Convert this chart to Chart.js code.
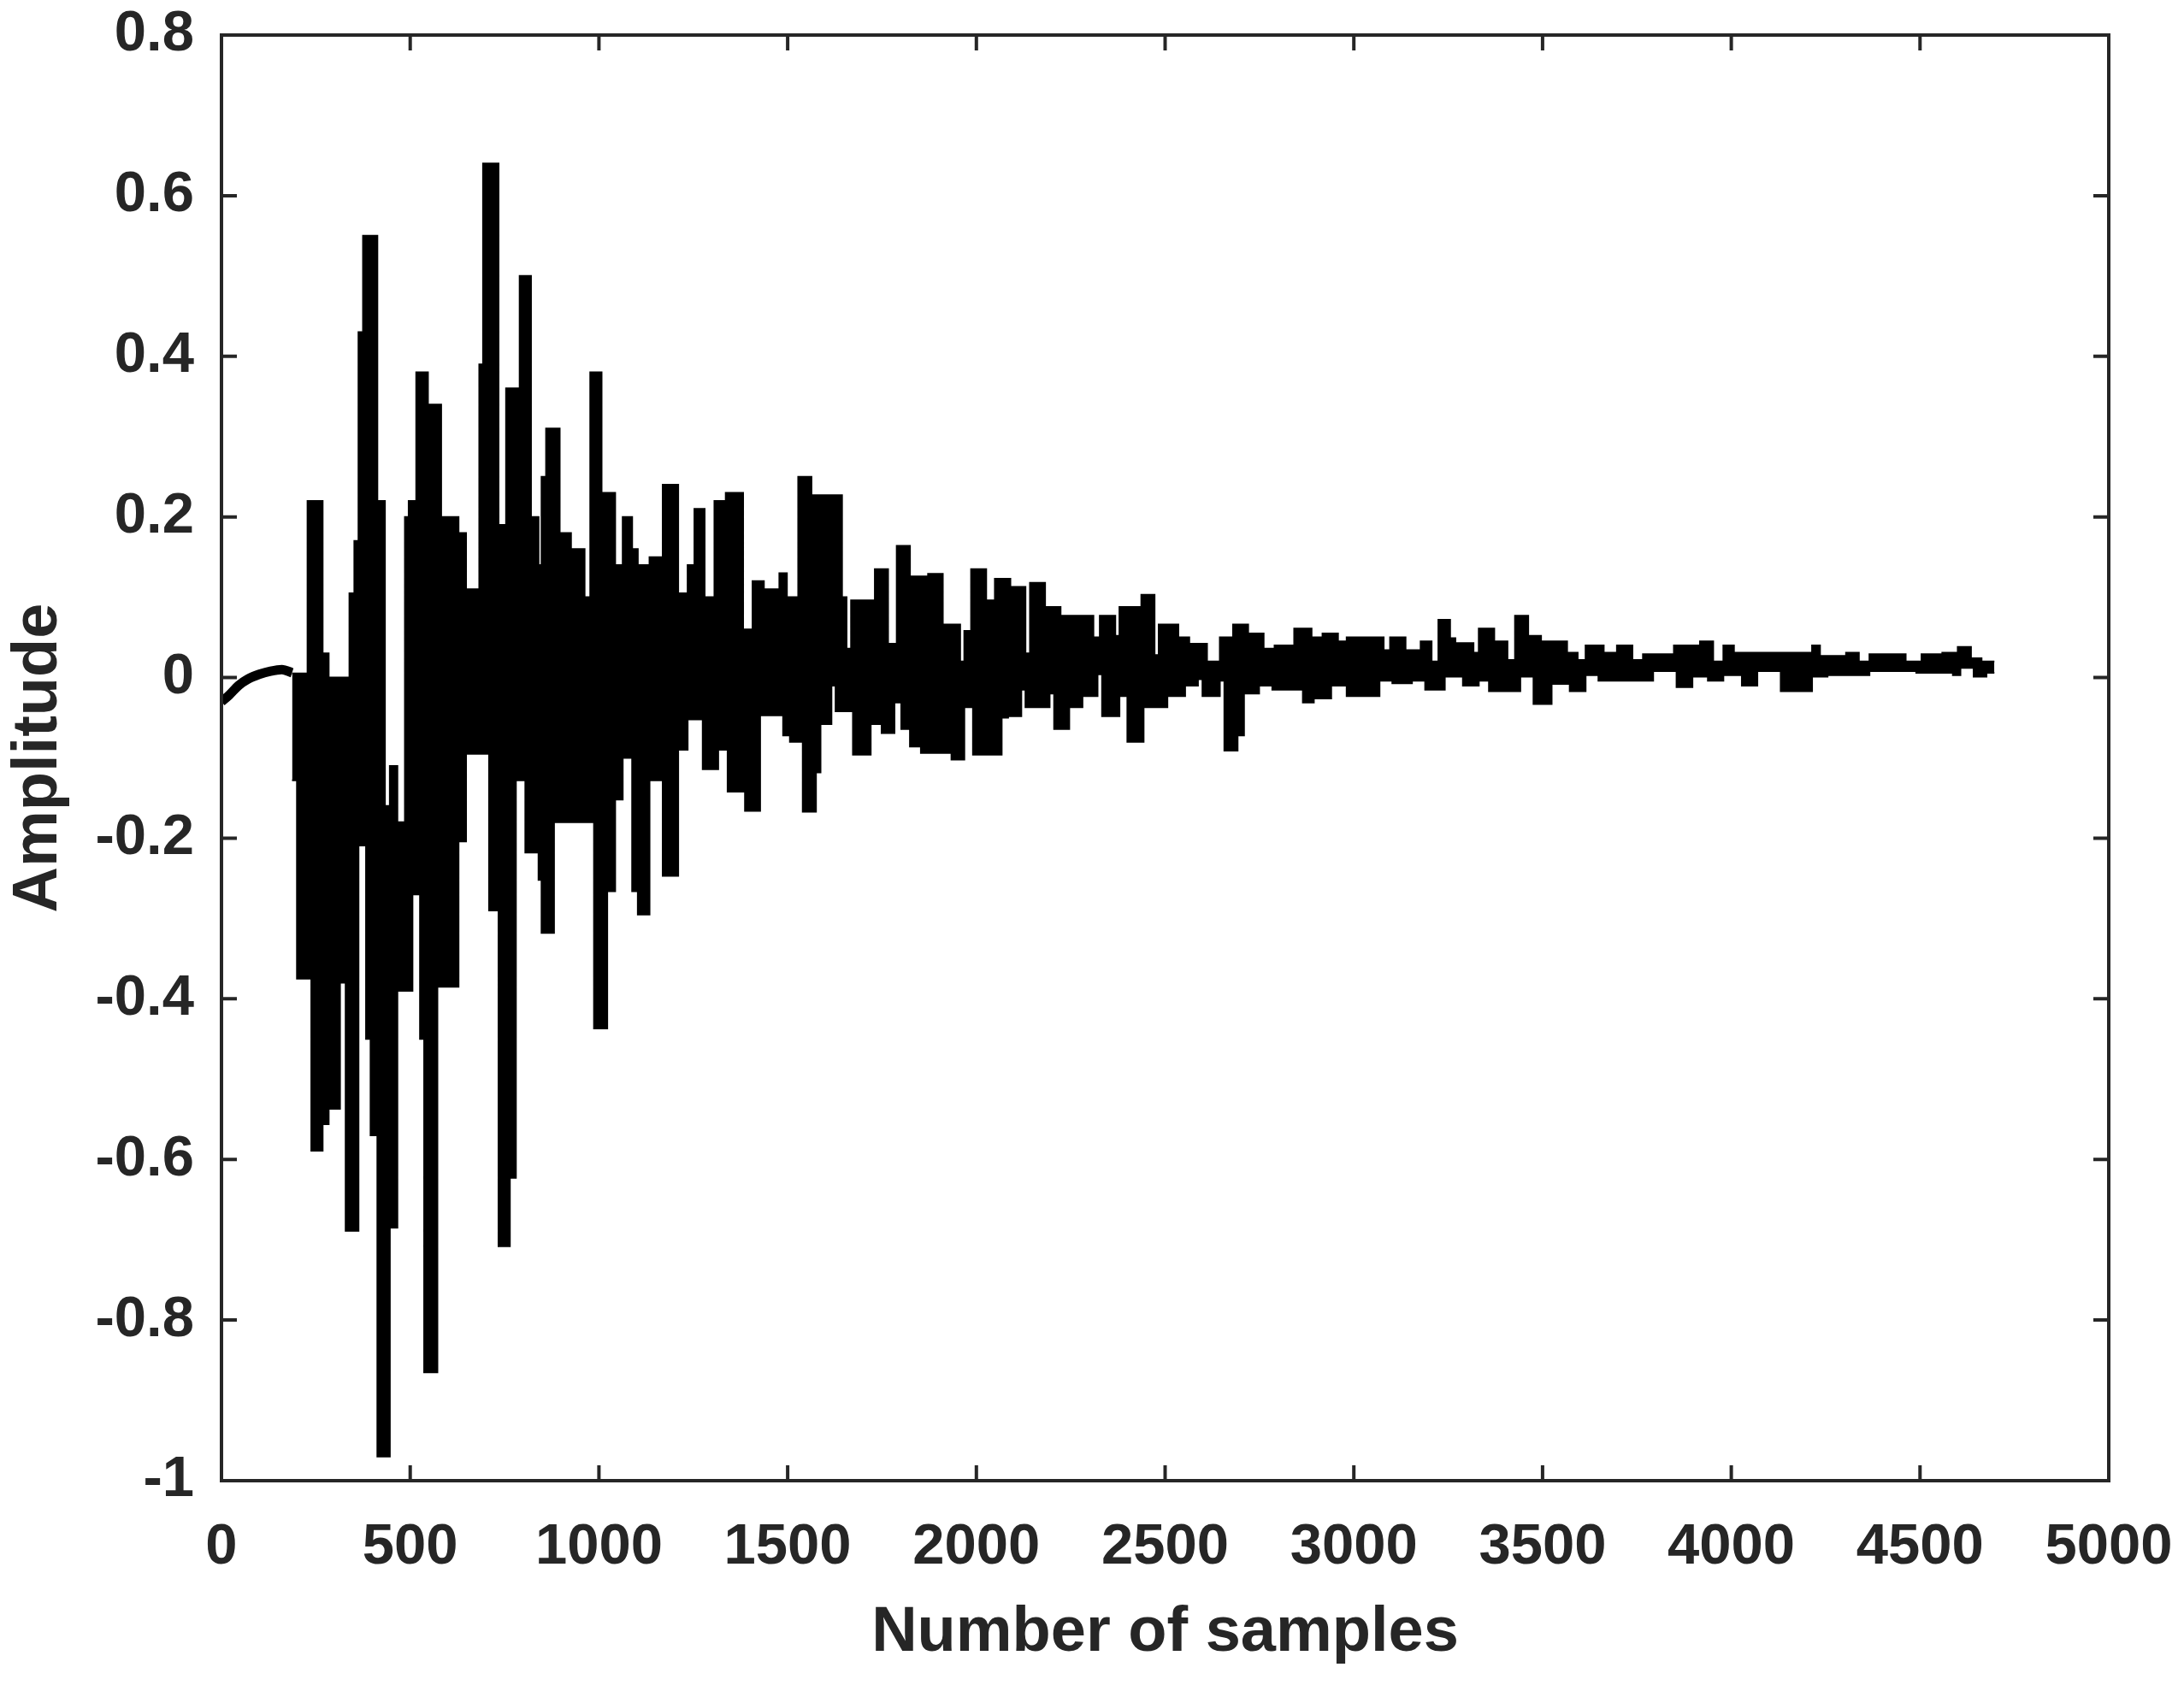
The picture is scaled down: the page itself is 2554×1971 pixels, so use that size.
<!DOCTYPE html>
<html>
<head>
<meta charset="utf-8">
<title>Amplitude vs number of samples</title>
<script src="https://cdn.jsdelivr.net/npm/chart.js@4/dist/chart.umd.min.js"></script>
<style>
  html, body { margin: 0; padding: 0; background: #fff; }
  canvas { display: block; }
</style>
</head>
<body>
<canvas id="signalChart" width="2554" height="1971"></canvas>
<script>
'use strict'

// axis ticks
const xTickValues = [0, 500, 1000, 1500, 2000, 2500, 3000, 3500, 4000, 4500, 5000];
const xTickLabels = ['0', '500', '1000', '1500', '2000', '2500', '3000', '3500', '4000', '4500', '5000'];
const yTickValues = [-1, -0.8, -0.6, -0.4, -0.2, 0, 0.2, 0.4, 0.6, 0.8];
const yTickLabels = ['-1', '-0.8', '-0.6', '-0.4', '-0.2', '0', '0.2', '0.4', '0.6', '0.8'];

// quiet start of the record, before the first arrival
const onsetSamples = [0, 20, 45, 70, 100, 130, 160, 187];
const onsetValues = [-0.03, -0.022, -0.01, -0.002, 0.004, 0.008, 0.01, 0.006];

// upper edge of the trace (sample where a level starts, amplitude)
const upperSamples = [
  187, 228, 268, 284, 339, 352, 363, 375, 413, 433,
  446, 466, 486, 496, 516, 547, 582, 628, 648, 683,
  693, 734, 754, 790, 820, 840, 848, 860, 896, 926,
  962, 977, 1007, 1043, 1063, 1088, 1103, 1134, 1169, 1210,
  1235, 1253, 1280, 1306, 1336, 1382, 1407, 1437, 1478, 1498,
  1528, 1563, 1644, 1656, 1668, 1731, 1766, 1789, 1824, 1872,
  1911, 1957, 1968, 1986, 2026, 2049, 2090, 2130, 2142, 2182,
  2223, 2310, 2327, 2368, 2379, 2437, 2472, 2483, 2535, 2564,
  2611, 2645, 2680, 2720, 2761, 2790, 2842, 2888, 2917, 2958,
  2981, 3079, 3096, 3137, 3177, 3206, 3224, 3255, 3269, 3317,
  3331, 3372, 3407, 3427, 3462, 3496, 3565, 3593, 3614, 3662,
  3697, 3738, 3766, 3848, 3917, 3952, 3979, 4007, 4214, 4235,
  4304, 4338, 4366, 4462, 4504, 4559, 4600, 4635, 4663, 4697
];
const upperValues = [
  0.005, 0.22, 0.03, 0.0, 0.105, 0.17, 0.43, 0.55, 0.22, -0.16,
  -0.11, -0.18, 0.2, 0.22, 0.38, 0.34, 0.2, 0.18, 0.11, 0.39,
  0.64, 0.19, 0.36, 0.5, 0.2, 0.14, 0.25, 0.31, 0.18, 0.16,
  0.1, 0.38, 0.23, 0.14, 0.2, 0.16, 0.14, 0.15, 0.24, 0.105,
  0.14, 0.21, 0.1, 0.22, 0.23, 0.06, 0.12, 0.11, 0.13, 0.1,
  0.25, 0.227, 0.1, 0.036, 0.096, 0.135, 0.042, 0.164, 0.126, 0.129,
  0.066, 0.02, 0.058, 0.135, 0.096, 0.123, 0.113, 0.03, 0.118, 0.088,
  0.077, 0.05, 0.077, 0.052, 0.088, 0.103, 0.028, 0.066, 0.05, 0.042,
  0.02, 0.05, 0.066, 0.055, 0.036, 0.04, 0.061, 0.05, 0.055, 0.045,
  0.05, 0.034, 0.05, 0.034, 0.045, 0.02, 0.072, 0.049, 0.043, 0.031,
  0.061, 0.045, 0.022, 0.077, 0.052, 0.045, 0.031, 0.022, 0.04, 0.031,
  0.04, 0.022, 0.029, 0.04, 0.045, 0.02, 0.04, 0.031, 0.04, 0.027,
  0.031, 0.02, 0.029, 0.02, 0.029, 0.031, 0.038, 0.024, 0.02, 0.02
];

// lower edge of the trace
const lowerSamples = [
  187, 200, 238, 268, 284, 314, 329, 363, 383, 395,
  413, 446, 466, 506, 526, 537, 572, 628, 648, 709,
  734, 764, 780, 805, 840, 848, 881, 987, 1022, 1043,
  1063, 1088, 1103, 1134, 1169, 1210, 1235, 1275, 1316, 1341,
  1387, 1427, 1488, 1506, 1540, 1575, 1587, 1616, 1627, 1673,
  1720, 1749, 1783, 1801, 1824, 1853, 1934, 1968, 1991, 2067,
  2084, 2119, 2130, 2194, 2206, 2246, 2281, 2321, 2333, 2379,
  2400, 2443, 2506, 2553, 2587, 2599, 2645, 2657, 2692, 2709,
  2749, 2784, 2865, 2894, 2940, 2981, 3068, 3102, 3154, 3189,
  3241, 3289, 3331, 3358, 3441, 3476, 3524, 3572, 3614, 3648,
  3793, 3855, 3897, 3938, 3979, 4028, 4069, 4131, 4214, 4255,
  4366, 4490, 4587, 4607, 4642, 4676, 4697
];
const lowerValues = [
  -0.128, -0.375, -0.589, -0.556, -0.537, -0.38, -0.689, -0.209, -0.45, -0.57,
  -0.97, -0.685, -0.39, -0.27, -0.45, -0.865, -0.385, -0.204, -0.095, -0.29,
  -0.708, -0.623, -0.128, -0.218, -0.252, -0.318, -0.18, -0.437, -0.266, -0.152,
  -0.1, -0.266, -0.295, -0.128, -0.247, -0.09, -0.052, -0.114, -0.09, -0.142,
  -0.166, -0.047, -0.072, -0.08, -0.167, -0.118, -0.058, -0.01, -0.042, -0.096,
  -0.058, -0.069, -0.031, -0.064, -0.086, -0.094, -0.102, -0.037, -0.096, -0.05,
  -0.048, -0.015, -0.037, -0.02, -0.064, -0.037, -0.023, 0.004, -0.048, -0.023,
  -0.08, -0.037, -0.023, -0.01, -0.002, -0.023, -0.004, -0.091, -0.072, -0.02,
  -0.01, -0.015, -0.031, -0.026, -0.01, -0.023, -0.004, -0.007, -0.004, -0.015,
  0.001, -0.01, -0.004, -0.017, 0.001, -0.033, -0.008, -0.017, 0.003, -0.004,
  0.008, -0.012, 0.001, -0.004, 0.003, -0.01, 0.008, -0.017, 0.001, 0.003,
  0.008, 0.006, 0.003, 0.012, 0.001, 0.006, 0.006
];

const axisColor = '#262626';
const traceColor = '#000000';

function toPoints(xs, ys) {
  let points = [];
  for (let i = 0; i < xs.length; i++) {
    points.push({x: xs[i], y: ys[i]});
  }
  return points;
}

// matlab style box with inward ticks on all four sides
const boxAxes = {
  id: 'boxAxes',
  afterDatasetsDraw(chart) {
    const {ctx, chartArea, scales} = chart;
    const tickLen = 18;
    ctx.save();
    ctx.strokeStyle = axisColor;
    ctx.lineWidth = 4;
    ctx.beginPath();
    scales.x.ticks.forEach(t => {
      let px = scales.x.getPixelForValue(t.value);
      ctx.moveTo(px, chartArea.bottom);
      ctx.lineTo(px, chartArea.bottom - tickLen);
      ctx.moveTo(px, chartArea.top);
      ctx.lineTo(px, chartArea.top + tickLen);
    });
    scales.y.ticks.forEach(t => {
      let py = scales.y.getPixelForValue(t.value);
      ctx.moveTo(chartArea.left, py);
      ctx.lineTo(chartArea.left + tickLen, py);
      ctx.moveTo(chartArea.right, py);
      ctx.lineTo(chartArea.right - tickLen, py);
    });
    ctx.stroke();
    ctx.strokeRect(chartArea.left, chartArea.top, chartArea.right - chartArea.left, chartArea.bottom - chartArea.top);
    ctx.restore();
  }
};

Chart.defaults.font.family = "'Liberation Sans', Arial, sans-serif";
Chart.defaults.color = axisColor;

const config = {
  type: 'line',
  data: {
    datasets: [
      {
        label: 'upper',
        data: toPoints(upperSamples, upperValues),
        stepped: true,
        fill: '+1',
        backgroundColor: traceColor,
        borderColor: traceColor,
        borderWidth: 2,
        pointRadius: 0
      },
      {
        label: 'lower',
        data: toPoints(lowerSamples, lowerValues),
        stepped: true,
        fill: false,
        borderColor: traceColor,
        borderWidth: 2,
        pointRadius: 0
      },
      {
        label: 'onset',
        data: toPoints(onsetSamples, onsetValues),
        fill: false,
        borderColor: traceColor,
        borderWidth: 11,
        cubicInterpolationMode: 'monotone',
        pointRadius: 0
      }
    ]
  },
  options: {
    responsive: false,
    animation: false,
    layout: {padding: {left: 0, top: 41, right: 88, bottom: 0}},
    plugins: {
      legend: {display: false},
      tooltip: {enabled: false}
    },
    scales: {
      x: {
        type: 'linear',
        min: 0,
        max: 5000,
        afterBuildTicks: scale => { scale.ticks = xTickValues.map(v => ({value: v})); },
        afterFit: scale => {
          scale.height = 239;
          scale.paddingLeft = 0;
          scale.paddingRight = 0;
        },
        grid: {display: false, drawTicks: false},
        border: {display: false},
        ticks: {
          font: {size: 67, weight: 'bold'},
          padding: 38,
          maxRotation: 0,
          autoSkip: false,
          callback: (value, index) => xTickLabels[index]
        },
        title: {
          display: true,
          text: 'Number of samples',
          font: {size: 74, weight: 'bold'},
          padding: {top: 0, bottom: 16}
        }
      },
      y: {
        type: 'linear',
        min: -1,
        max: 0.8,
        afterBuildTicks: scale => { scale.ticks = yTickValues.map(v => ({value: v})); },
        afterFit: scale => {
          scale.width = 259;
          scale.paddingTop = 0;
          scale.paddingBottom = 0;
        },
        grid: {display: false, drawTicks: false},
        border: {display: false},
        ticks: {
          font: {size: 67, weight: 'bold'},
          padding: 32,
          autoSkip: false,
          callback: (value, index) => yTickLabels[index]
        },
        title: {
          display: true,
          text: 'Amplitude',
          font: {size: 74, weight: 'bold'},
          padding: {top: 1, bottom: 0}
        }
      }
    }
  },
  plugins: [boxAxes]
};

let signalChart = new Chart(document.getElementById('signalChart'), config);
</script>
</body>
</html>
